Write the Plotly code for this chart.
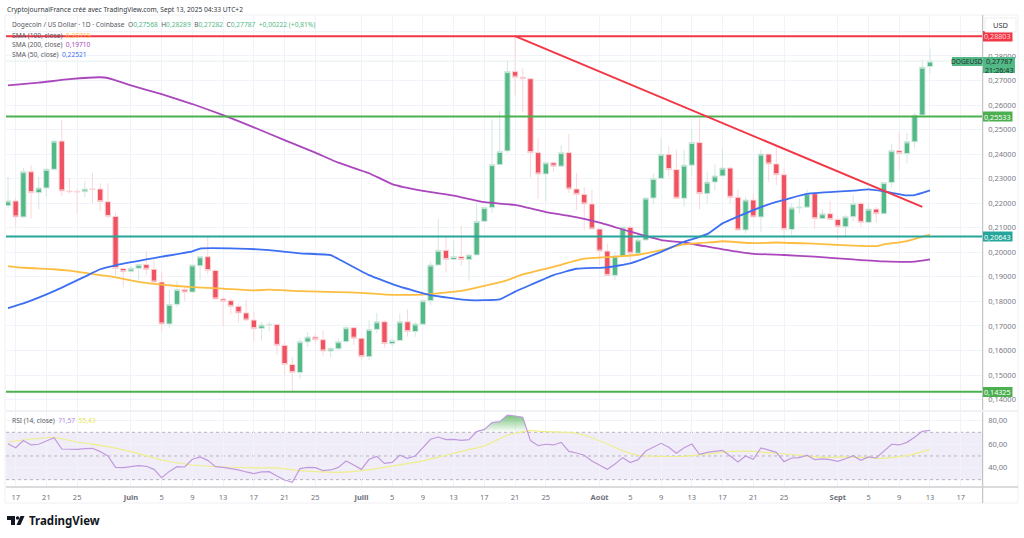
import pandas as pd
import plotly.graph_objects as go

W, H = 1024, 538

# ========== DATA ==========
opens = [0.2190, 0.2209, 0.2144, 0.2328, 0.2243, 0.2262, 0.2338, 0.2453, 0.2250, 0.2248,
         0.2247, 0.2258, 0.2258, 0.2206, 0.2146, 0.1934, 0.1923, 0.1935, 0.1950, 0.1931,
         0.1879, 0.1708, 0.1788, 0.1849, 0.1838, 0.1945, 0.1982, 0.1926, 0.1810, 0.1803,
         0.1780, 0.1753, 0.1724, 0.1690, 0.1704, 0.1706, 0.1621, 0.1543, 0.1510, 0.1635,
         0.1655, 0.1644, 0.1598, 0.1607, 0.1636, 0.1693, 0.1650, 0.1575, 0.1686, 0.1717,
         0.1628, 0.1641, 0.1717, 0.1677, 0.1707, 0.1803, 0.1948, 0.2008, 0.1971, 0.1983,
         0.1971, 0.1989, 0.2126, 0.2182, 0.2357, 0.2413, 0.2736, 0.2713, 0.2707, 0.2406,
         0.2319, 0.2365, 0.2351, 0.2406, 0.2258, 0.2236, 0.2197, 0.2095, 0.2005, 0.1906,
         0.1985, 0.2102, 0.1996, 0.2050, 0.2221, 0.2301, 0.2399, 0.2337, 0.2220, 0.2355,
         0.2447, 0.2239, 0.2286, 0.2311, 0.2343, 0.2224, 0.2091, 0.2213, 0.2144, 0.2400,
         0.2360, 0.2316, 0.2093, 0.2181, 0.2184, 0.2239, 0.2137, 0.2157, 0.2134, 0.2104,
         0.2145, 0.2199, 0.2122, 0.2176, 0.2157, 0.2284, 0.2414, 0.2402, 0.2450, 0.2559,
         0.27568]
highs = [0.2307, 0.2220, 0.2345, 0.2356, 0.2308, 0.2345, 0.2453, 0.2539, 0.2302, 0.2260,
         0.2290, 0.2323, 0.2281, 0.2281, 0.2162, 0.1935, 0.1944, 0.1955, 0.2005, 0.1969,
         0.1921, 0.1846, 0.1884, 0.1860, 0.1948, 0.1982, 0.2064, 0.1930, 0.1819, 0.1812,
         0.1792, 0.1808, 0.1758, 0.1717, 0.1717, 0.1707, 0.1636, 0.1575, 0.1650, 0.1674,
         0.1670, 0.1683, 0.1612, 0.1650, 0.1700, 0.1697, 0.1650, 0.1724, 0.1754, 0.1724,
         0.1650, 0.1751, 0.1768, 0.1717, 0.1808, 0.1962, 0.2136, 0.2064, 0.2050, 0.2107,
         0.1991, 0.2199, 0.2182, 0.2542, 0.2576, 0.2783, 0.2880, 0.2749, 0.2707, 0.2468,
         0.2365, 0.2365, 0.2437, 0.2482, 0.2324, 0.2265, 0.2254, 0.2095, 0.2036, 0.2003,
         0.2105, 0.2102, 0.2078, 0.2221, 0.2321, 0.2464, 0.2433, 0.2417, 0.2417, 0.2502,
         0.2546, 0.2328, 0.2359, 0.2423, 0.2349, 0.2254, 0.2226, 0.2240, 0.2419, 0.2400,
         0.2430, 0.2342, 0.2199, 0.2219, 0.2256, 0.2243, 0.2176, 0.2210, 0.2146, 0.2152,
         0.2233, 0.2206, 0.2199, 0.2186, 0.2284, 0.2441, 0.2491, 0.2487, 0.2569, 0.2786,
         0.28289]
lows = [0.2179, 0.2104, 0.2140, 0.2138, 0.2175, 0.2226, 0.2332, 0.2229, 0.2240, 0.2159,
        0.2224, 0.2201, 0.2168, 0.2138, 0.1905, 0.1856, 0.1918, 0.1887, 0.1907, 0.1879,
        0.1677, 0.1693, 0.1778, 0.1803, 0.1838, 0.1887, 0.1912, 0.1810, 0.1700, 0.1747,
        0.1715, 0.1718, 0.1636, 0.1640, 0.1677, 0.1582, 0.1500, 0.1432, 0.1484, 0.1615,
        0.1629, 0.1579, 0.1571, 0.1602, 0.1630, 0.1622, 0.1561, 0.1561, 0.1670, 0.1612,
        0.1618, 0.1641, 0.1656, 0.1656, 0.1707, 0.1785, 0.1948, 0.1918, 0.1971, 0.1946,
        0.1884, 0.1989, 0.2126, 0.2161, 0.2357, 0.2403, 0.2640, 0.2573, 0.2305, 0.2217,
        0.2206, 0.2328, 0.2351, 0.2240, 0.2172, 0.2091, 0.2095, 0.1948, 0.1906, 0.1887,
        0.1985, 0.1962, 0.1996, 0.2050, 0.2197, 0.2301, 0.2308, 0.2220, 0.2186, 0.2312,
        0.2175, 0.2199, 0.2253, 0.2311, 0.2199, 0.2091, 0.2077, 0.2144, 0.2081, 0.2288,
        0.2274, 0.2057, 0.2070, 0.2158, 0.2184, 0.2095, 0.2137, 0.2134, 0.2050, 0.2063,
        0.2125, 0.2104, 0.2122, 0.2120, 0.2157, 0.2265, 0.2335, 0.2362, 0.2423, 0.2559,
        0.27282]
closes = [0.2209, 0.2144, 0.2328, 0.2243, 0.2262, 0.2338, 0.2453, 0.2250, 0.2247, 0.2246,
          0.2258, 0.2257, 0.2206, 0.2146, 0.1934, 0.1921, 0.1935, 0.1950, 0.1931, 0.1879,
          0.1708, 0.1788, 0.1849, 0.1838, 0.1948, 0.1982, 0.1926, 0.1810, 0.1800, 0.1780,
          0.1753, 0.1724, 0.1689, 0.1704, 0.1706, 0.1621, 0.1543, 0.1510, 0.1636, 0.1655,
          0.1644, 0.1598, 0.1609, 0.1636, 0.1693, 0.1650, 0.1575, 0.1686, 0.1717, 0.1628,
          0.1641, 0.1717, 0.1677, 0.1708, 0.1803, 0.1948, 0.2008, 0.1971, 0.1983, 0.1971,
          0.1989, 0.2126, 0.2182, 0.2357, 0.2411, 0.2736, 0.2713, 0.2707, 0.2406, 0.2319,
          0.2365, 0.2351, 0.2406, 0.2258, 0.2236, 0.2197, 0.2095, 0.2005, 0.1906, 0.1985,
          0.2102, 0.1996, 0.2050, 0.2221, 0.2301, 0.2399, 0.2337, 0.2220, 0.2355, 0.2447,
          0.2239, 0.2286, 0.2311, 0.2343, 0.2224, 0.2091, 0.2213, 0.2144, 0.2400, 0.2360,
          0.2316, 0.2093, 0.2181, 0.2184, 0.2239, 0.2137, 0.2157, 0.2134, 0.2104, 0.2145,
          0.2199, 0.2122, 0.2176, 0.2157, 0.2284, 0.2414, 0.2402, 0.2450, 0.2559, 0.2754,
          0.27787]
rsi = [60.4, 57.0, 63.0, 59.3, 59.9, 62.4, 65.5, 55.9, 55.6, 55.6,
       56.2, 56.5, 53.7, 50.0, 40.4, 40.1, 41.0, 41.8, 41.3, 38.7,
       31.7, 37.0, 41.0, 40.7, 47.2, 49.2, 46.3, 41.0, 40.4, 39.6,
       38.2, 36.5, 35.1, 36.5, 36.8, 33.1, 29.7, 27.7, 39.3, 40.4,
       40.1, 37.6, 38.2, 40.4, 45.8, 42.4, 38.7, 47.2, 49.7, 43.8,
       44.6, 50.6, 48.0, 50.0, 57.0, 64.1, 66.0, 63.8, 64.1, 63.2,
       63.8, 70.6, 72.5, 78.2, 79.0, 84.6, 83.8, 82.7, 63.0, 58.7,
       59.9, 59.3, 61.5, 53.9, 52.5, 50.6, 45.8, 42.1, 38.7, 43.2,
       48.6, 44.4, 46.9, 54.2, 57.3, 60.7, 57.3, 52.3, 57.0, 60.1,
       51.4, 53.1, 53.9, 54.8, 50.0, 44.9, 50.0, 47.2, 56.8, 55.1,
       53.1, 45.2, 48.3, 48.6, 50.6, 46.9, 47.5, 46.9, 45.5, 47.7,
       50.3, 46.3, 49.2, 48.3, 54.2, 59.9, 59.3, 61.5, 65.8, 70.8,
       71.57]

# moving averages, days counted from 17 May
sma200_days = [-1, 3, 7, 11, 12, 15, 19, 23, 27, 31, 35, 39, 42, 46, 49, 53, 57, 61, 65, 69,
               72, 76, 80, 84, 87, 92, 96, 100, 104, 109, 113, 117, 119]
sma200 = [0.2680, 0.2691, 0.2705, 0.2713, 0.2710, 0.2680, 0.2644, 0.2604, 0.2559, 0.2509,
          0.2457, 0.2406, 0.2365, 0.2322, 0.2278, 0.2250, 0.2231, 0.2204, 0.2193, 0.2164,
          0.2148, 0.2121, 0.2084, 0.2050, 0.2040, 0.2012, 0.1994, 0.1989, 0.1982, 0.1971,
          0.1963, 0.1962, 0.19710]
sma50_days = [-1, 1, 5, 9, 11, 13, 17, 19, 23, 24, 29, 33, 37, 41, 42, 46, 50, 54, 59, 63,
              65, 67, 70, 73, 77, 80, 84, 87, 90, 92, 96, 99, 103, 109, 111, 113, 116, 117, 119]
sma50 = [0.1773, 0.1792, 0.1842, 0.1901, 0.1931, 0.1947, 0.1971, 0.1982, 0.2004, 0.2015,
         0.2015, 0.2009, 0.1996, 0.1989, 0.1973, 0.1907, 0.1860, 0.1826, 0.1805, 0.1808,
         0.1840, 0.1867, 0.1907, 0.1933, 0.1939, 0.1955, 0.2002, 0.2043, 0.2074, 0.2118,
         0.2172, 0.2205, 0.2238, 0.2251, 0.2256, 0.2248, 0.2232, 0.2233, 0.22521]
sma100_days = [-1, 1, 5, 7, 11, 13, 16, 19, 23, 27, 31, 33, 37, 42, 45, 49, 53, 58, 61, 64,
               66, 70, 74, 78, 81, 84, 87, 91, 92, 96, 99, 103, 107, 112, 113, 116, 119]
sma100 = [0.1944, 0.1937, 0.1931, 0.1925, 0.1907, 0.1898, 0.1880, 0.1868, 0.1858, 0.1852,
          0.1845, 0.1848, 0.1842, 0.1838, 0.1835, 0.1827, 0.1828, 0.1843, 0.1863, 0.1887,
          0.1910, 0.1941, 0.1974, 0.1982, 0.1990, 0.2009, 0.2032, 0.2042, 0.2045, 0.2037,
          0.2040, 0.2036, 0.2030, 0.2025, 0.2032, 0.2046, 0.20719]
rsi_ma_days = [-1, 1, 5, 8, 12, 15, 19, 23, 27, 31, 34, 37, 39, 42, 45, 49, 53, 57, 61, 64,
               65, 67, 69, 72, 74, 77, 79, 81, 84, 87, 90, 93, 96, 99, 102, 105, 108, 111, 113, 116, 119]
rsi_ma = [61.8, 63.5, 65.8, 61.8, 57.9, 53.7, 46.6, 42.4, 40.7, 39.9,
          39.9, 37.6, 36.8, 36.2, 37.6, 41.5, 45.8, 52.3, 58.5, 67.7,
          69.2, 71.4, 70.6, 70.0, 67.7, 60.1, 54.5, 50.6, 49.7, 49.7,
          51.7, 53.9, 53.9, 52.3, 50.6, 48.9, 49.2, 48.6, 48.0, 50.3, 55.43]

# overbought part of the RSI, above the 70 line
ob_days = [60.1, 61, 62, 63, 64, 65, 66, 66.65]
ob_vals = [70.0, 72.5, 78.2, 79.0, 84.6, 83.8, 82.7, 70.0]

levels = [0.28803, 0.25533, 0.20643, 0.14325]
level_colors = ["#f23645", "#4caf50", "#26a69a", "#4caf50"]
level_labels = ["0,28803", "0,25533", "0,20643", "0,14325"]
trend_days = [65, 118]
trend_vals = [0.28803, 0.2185]
last_close = 0.27787

price_ticks = [0.14, 0.15, 0.16, 0.17, 0.18, 0.19, 0.20, 0.21, 0.22, 0.23, 0.24, 0.25, 0.26, 0.27, 0.28, 0.29]
price_labels = ["0,14000", "0,15000", "0,16000", "0,17000", "0,18000", "0,19000", "0,20000", "0,21000",
                "0,22000", "0,23000", "0,24000", "0,25000", "0,26000", "0,27000", "0,28000", ""]
rsi_ticks = [40, 60, 80]
tick_dates = ["2025-05-17", "2025-05-21", "2025-05-25", "2025-06-01", "2025-06-05", "2025-06-09", "2025-06-13",
              "2025-06-17", "2025-06-21", "2025-06-25", "2025-07-01", "2025-07-05", "2025-07-09", "2025-07-13",
              "2025-07-17", "2025-07-21", "2025-07-25", "2025-08-01", "2025-08-05", "2025-08-09", "2025-08-13",
              "2025-08-17", "2025-08-21", "2025-08-25", "2025-09-01", "2025-09-05", "2025-09-09", "2025-09-13",
              "2025-09-17"]
tick_text = ["17", "21", "25", "<b>Juin</b>", "5", "9", "13", "17", "21", "25", "<b>Juill</b>", "5", "9", "13",
             "17", "21", "25", "<b>Août</b>", "5", "9", "13", "17", "21", "25", "<b>Sept</b>", "5", "9", "13", "17"]

day0 = pd.Timestamp("2025-05-17")


def to_dates(days):
    return [day0 + pd.Timedelta(days=d) for d in days]


def px_x(x):
    return x / W


def px_y(y):
    return 1 - y / H


dates = pd.date_range("2025-05-16", periods=len(closes))
x_start = day0 - pd.Timedelta(days=1.26)
x_end = day0 + pd.Timedelta(days=125.86)

UP = "#53b987"
DOWN = "#ef5261"
GRID = "#f0f3fa"
ORANGE = "#fdbd40"
FONT = "Noto Sans"

fig = go.Figure()

# ========== PRICE PANE ==========
fig.add_trace(go.Candlestick(x=dates, open=opens, high=highs, low=lows, close=closes,
                             whiskerwidth=0, xaxis="x", yaxis="y",
                             increasing=dict(line=dict(color="#d3e8e0", width=1), fillcolor=UP),
                             decreasing=dict(line=dict(color="#fad7da", width=1), fillcolor=DOWN)))
fig.add_trace(go.Scatter(x=[x_start, x_end], y=[last_close, last_close], mode="lines",
                         line=dict(color="#e3eff0", width=1), yaxis="y"))
fig.add_trace(go.Scatter(x=to_dates(sma200_days), y=sma200, mode="lines",
                         line=dict(color="#ab47bc", width=1.8, shape="spline", smoothing=0.4), yaxis="y"))
fig.add_trace(go.Scatter(x=to_dates(sma100_days), y=sma100, mode="lines",
                         line=dict(color=ORANGE, width=1.8, shape="spline", smoothing=0.4), yaxis="y"))
fig.add_trace(go.Scatter(x=to_dates(sma50_days), y=sma50, mode="lines",
                         line=dict(color="#3d6ff2", width=1.8, shape="spline", smoothing=0.4), yaxis="y"))
for lvl, col in zip(levels, level_colors):
    fig.add_trace(go.Scatter(x=[x_start, x_end], y=[lvl, lvl], mode="lines",
                             line=dict(color=col, width=2), yaxis="y"))
fig.add_trace(go.Scatter(x=to_dates(trend_days), y=trend_vals, mode="lines",
                         line=dict(color="#f23645", width=2), yaxis="y"))

# ========== RSI PANE ==========
fig.add_shape(type="rect", xref="x domain", yref="y2", x0=0, x1=1, y0=30, y1=70,
              fillcolor="rgba(126,87,194,0.11)", line_width=0, layer="below")
for lvl in [70, 50, 30]:
    fig.add_shape(type="line", xref="x domain", yref="y2", x0=0, x1=1, y0=lvl, y1=lvl,
                  line=dict(color="#b4b4bc", width=1, dash="dot"), layer="below")
fig.add_trace(go.Scatter(x=to_dates(ob_days), y=[70] * len(ob_days), mode="lines",
                         line=dict(width=0), yaxis="y2"))
fig.add_trace(go.Scatter(x=to_dates(ob_days), y=ob_vals, mode="lines", line=dict(width=0), yaxis="y2",
                         fill="tonexty",
                         fillgradient=dict(type="vertical",
                                           colorscale=[[0, "rgba(76,175,80,0)"], [1, "rgba(76,175,80,0.75)"]])))
fig.add_trace(go.Scatter(x=to_dates(rsi_ma_days), y=rsi_ma, mode="lines",
                         line=dict(color="#eeee8c", width=1.2, shape="spline", smoothing=0.4), yaxis="y2"))
fig.add_trace(go.Scatter(x=dates, y=rsi, mode="lines", line=dict(color="#c09ade", width=1.2), yaxis="y2"))

# ========== FRAME ==========
fig.add_shape(type="rect", xref="paper", yref="paper", x0=px_x(5), x1=px_x(1018), y0=px_y(503), y1=px_y(15),
              line=dict(color="#f0f0f3", width=1), layer="below")
fig.add_shape(type="line", xref="paper", yref="paper", x0=px_x(982.7), x1=px_x(982.7), y0=px_y(503), y1=px_y(15),
              line=dict(color="#b8b8bc", width=1))
fig.add_shape(type="line", xref="paper", yref="paper", x0=px_x(6), x1=px_x(1018), y0=px_y(487), y1=px_y(487),
              line=dict(color="#cfcfd2", width=1.5))
fig.add_shape(type="line", xref="paper", yref="paper", x0=px_x(6), x1=px_x(1018), y0=px_y(411), y1=px_y(411),
              line=dict(color="#eff1f5", width=2))

# TradingView mark
logo_t = "M {} {} L {} {} L {} {} L {} {} L {} {} L {} {} Z".format(
    px_x(7), px_y(516), px_x(15), px_y(516), px_x(15), px_y(525),
    px_x(11), px_y(525), px_x(11), px_y(520), px_x(7), px_y(520))
logo_v = "M {} {} L {} {} L {} {} L {} {} Z".format(
    px_x(20.5), px_y(516), px_x(24.5), px_y(516), px_x(20.5), px_y(525), px_x(16.5), px_y(525))
for path in [logo_t, logo_v]:
    fig.add_shape(type="path", xref="paper", yref="paper", path=path, fillcolor="#131722", line_width=0)
fig.add_shape(type="circle", xref="paper", yref="paper", x0=px_x(15.8), x1=px_x(19.4), y0=px_y(519.8), y1=px_y(516.2),
              fillcolor="#131722", line_width=0)


def note(x, y, text, size=6.65, color="#555a64", **kw):
    fig.add_annotation(xref="paper", yref="paper", x=px_x(x), y=px_y(y), text=text, showarrow=False,
                       xanchor=kw.pop("xanchor", "left"), yanchor="middle", borderpad=0,
                       font=dict(family=FONT, size=size, color=color), **kw)


def tag(x0, x1, y0, y1, text, fill, color, size=7.2):
    fig.add_shape(type="rect", xref="paper", yref="paper", x0=px_x(x0), x1=px_x(x1), y0=px_y(y1), y1=px_y(y0),
                  fillcolor=fill, line_width=0, layer="above")
    note((x0 + x1) / 2, (y0 + y1) / 2, text, size=size, color=color, xanchor="center")


def span(text, color):
    return f'<span style="color:{color}">{text}</span>'


note(6, 9, "CryptojournalFrance créé avec TradingView.com, Sept 13, 2025 04:33 UTC+2", size=6.67, color="#333840")
header = ("Dogecoin / US Dollar · 1D · Coinbase  O" + span("0,27568", UP) + "  H" + span("0,28289", UP)
          + "  B" + span("0,27282", UP) + "  C" + span("0,27787", UP) + "  " + span("+0,00222 (+0,81%)", UP))
note(10.7, 24.7, header)
note(10.7, 35, "SMA (100, close)  " + span("0,20719", ORANGE))
note(10.7, 44.7, "SMA (200, close)  " + span("0,19710", "#ab47bc"))
note(10.7, 54.7, "SMA (50, close)  " + span("0,22521", "#3d6ff2"))
note(10.7, 420, "RSI (14, close)  " + span("71,57", "#b388e0") + "  " + span("55,43", "#e6e650"))

# price tags
tag(983, 1012.5, 31, 41.5, level_labels[0], level_colors[0], "#ffd9dc")
tag(983, 1012.5, 111.5, 121.5, level_labels[1], level_colors[1], "#ffffff")
tag(983, 1012.5, 231.5, 241.5, level_labels[2], level_colors[2], "#ffffff")
tag(983, 1012.5, 387, 397, level_labels[3], level_colors[3], "#ffffff")
tag(983, 1015, 57, 73, "0,27787<br>21:26:43", UP, "#20302a")
tag(952, 982.5, 57, 66, "DOGEUSD", UP, "#20302a", size=6.6)
fig.add_shape(type="rect", xref="paper", yref="paper", x0=px_x(985), x1=px_x(1016), y0=px_y(32), y1=px_y(18),
              fillcolor="white", line=dict(color="#eeeef2", width=1), layer="above")
note(1000.5, 25, "USD", size=7.5, color="#333840", xanchor="center")
note(28, 520.5, "<b>TradingView</b>", size=11.5, color="#131722")

fig.update_layout(
    width=W, height=H, margin=dict(l=0, r=0, t=0, b=0), autosize=False,
    paper_bgcolor="white", plot_bgcolor="white", showlegend=False, separators=", ",
    font=dict(family=FONT, size=7.5, color="#787b86"), boxgap=0.3, boxgroupgap=0,
    xaxis=dict(domain=[px_x(6), px_x(982.7)], range=[x_start, x_end], anchor="y2",
               rangeslider=dict(visible=False), tickmode="array", tickvals=tick_dates, ticktext=tick_text,
               showgrid=True, gridcolor=GRID, gridwidth=1, zeroline=False, showline=False,
               ticks="outside", ticklen=3, tickcolor="rgba(0,0,0,0)", tickfont=dict(size=7.5, color="#6f727c")),
    yaxis=dict(domain=[px_y(411), px_y(15)], range=[0.13536, 0.29666], side="right", anchor="x",
               tickmode="array", tickvals=price_ticks, ticktext=price_labels, showgrid=True, gridcolor=GRID,
               zeroline=False, showline=False, ticks="outside", ticklen=3, tickcolor="rgba(0,0,0,0)",
               tickfont=dict(size=7.5, color="#787b86")),
    yaxis2=dict(domain=[px_y(486.7), px_y(411)], range=[24.05, 88], side="right", anchor="x",
                tickmode="array", tickvals=rsi_ticks, tickformat=".2f", showgrid=True, gridcolor=GRID,
                zeroline=False, showline=False, ticks="outside", ticklen=3, tickcolor="rgba(0,0,0,0)",
                tickfont=dict(size=7.5, color="#787b86")),
    hovermode=False,
)

fig.write_html("out.html", config=dict(displayModeBar=False),
               post_script="document.body.style.margin='0';document.body.style.overflow='hidden';")
